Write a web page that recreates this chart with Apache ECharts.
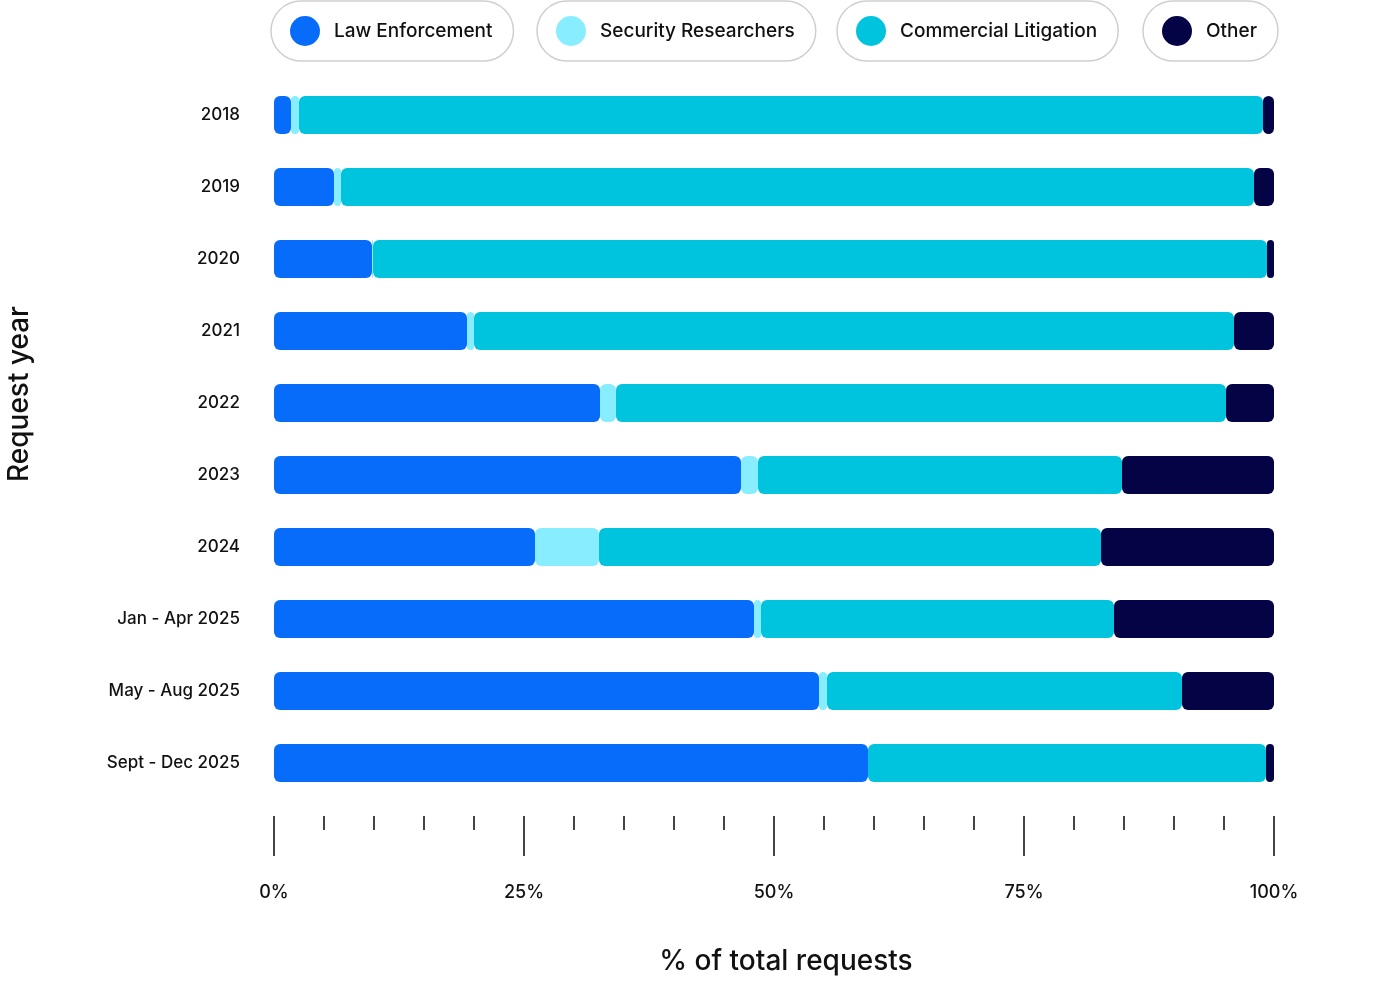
<!DOCTYPE html>
<html>
<head>
<meta charset="utf-8">
<script src="https://cdn.jsdelivr.net/npm/echarts@6/dist/echarts.min.js"></script>
<style>
  html, body { margin: 0; padding: 0; background: #fff; }
  #chart { width: 1400px; height: 1002px; }
</style>
</head>
<body>
<div id="chart"></div>
<script>
var years = ['2018', '2019', '2020', '2021', '2022', '2023', '2024', 'Jan - Apr 2025', 'May - Aug 2025', 'Sept - Dec 2025'];
var lawEnforcement = [1.7, 6.0, 9.8, 19.3, 32.6, 46.7, 26.1, 48.0, 54.5, 59.4];
var securityResearchers = [0.8, 0.7, 0.1, 0.7, 1.6, 1.7, 6.4, 0.7, 0.8, 0];
var commercialLitigation = [96.4, 91.3, 89.4, 76.0, 61.0, 36.4, 50.2, 35.3, 35.5, 39.8];
var other = [1.1, 2.0, 0.7, 4.0, 4.8, 15.2, 17.3, 16.0, 9.2, 0.8];
var xTicks = [0, 25, 50, 75, 100];

var font = 'Inter, "Noto Sans", sans-serif';
var seriesNames = ['Law Enforcement', 'Security Researchers', 'Commercial Litigation', 'Other'];
var seriesColors = ['#086cfa', '#88eeff', '#00c4de', '#030346'];
var seriesData = [lawEnforcement, securityResearchers, commercialLitigation, other];
var legendLeft = [271, 537, 837, 1143];

var chart = echarts.init(document.getElementById('chart'));

var legends = seriesNames.map(function (name, i) {
    return {
        data: [name],
        left: legendLeft[i],
        top: 1,
        orient: 'horizontal',
        padding: [15, 21, 15, 19],
        borderColor: '#cfcfcf',
        borderWidth: 1.5,
        borderRadius: 30,
        icon: 'circle',
        itemWidth: 30,
        itemHeight: 30,
        selectedMode: false,
        textStyle: {
            fontFamily: font,
            fontSize: 19,
            fontWeight: 500,
            color: '#111',
            padding: [0, 0, 0, 9]
        }
    };
});

var series = seriesNames.map(function (name, i) {
    return {
        name: name,
        type: 'bar',
        stack: 'total',
        barWidth: 38,
        itemStyle: {
            color: seriesColors[i],
            borderRadius: 6
        },
        data: seriesData[i]
    };
});

chart.setOption({
    animation: false,
    color: seriesColors,
    legend: legends,
    grid: {
        left: 274,
        right: 126,
        top: 79,
        bottom: 203,
        containLabel: false
    },
    xAxis: {
        type: 'value',
        min: 0,
        max: 100,
        interval: 25,
        offset: 17,
        axisLine: { show: false },
        axisTick: {
            show: true,
            length: 40,
            lineStyle: { color: '#444', width: 2 }
        },
        minorTick: {
            show: true,
            splitNumber: 5,
            length: 14,
            lineStyle: { color: '#444', width: 2 }
        },
        splitLine: { show: false },
        axisLabel: {
            margin: 68,
            fontFamily: font,
            fontSize: 18,
            fontWeight: 500,
            color: '#111',
            formatter: function (v) {
                return xTicks.indexOf(v) >= 0 ? v + '%' : '';
            }
        },
        name: '% of total requests',
        nameLocation: 'middle',
        nameGap: 132,
        nameTextStyle: {
            fontFamily: font,
            fontSize: 28,
            fontWeight: 500,
            color: '#111',
            padding: [0, 0, 0, 24]
        }
    },
    yAxis: {
        type: 'category',
        data: years,
        inverse: true,
        axisLine: { show: false },
        axisTick: { show: false },
        axisLabel: {
            margin: 34,
            fontFamily: font,
            fontSize: 17,
            fontWeight: 500,
            color: '#111'
        }
    },
    graphic: [{
        type: 'text',
        x: 20,
        y: 394,
        rotation: Math.PI / 2,
        style: {
            text: 'Request year',
            fontFamily: font,
            fontSize: 28,
            fontWeight: 500,
            fill: '#111',
            align: 'center',
            verticalAlign: 'middle'
        }
    }],
    series: series
});
</script>
</body>
</html>
